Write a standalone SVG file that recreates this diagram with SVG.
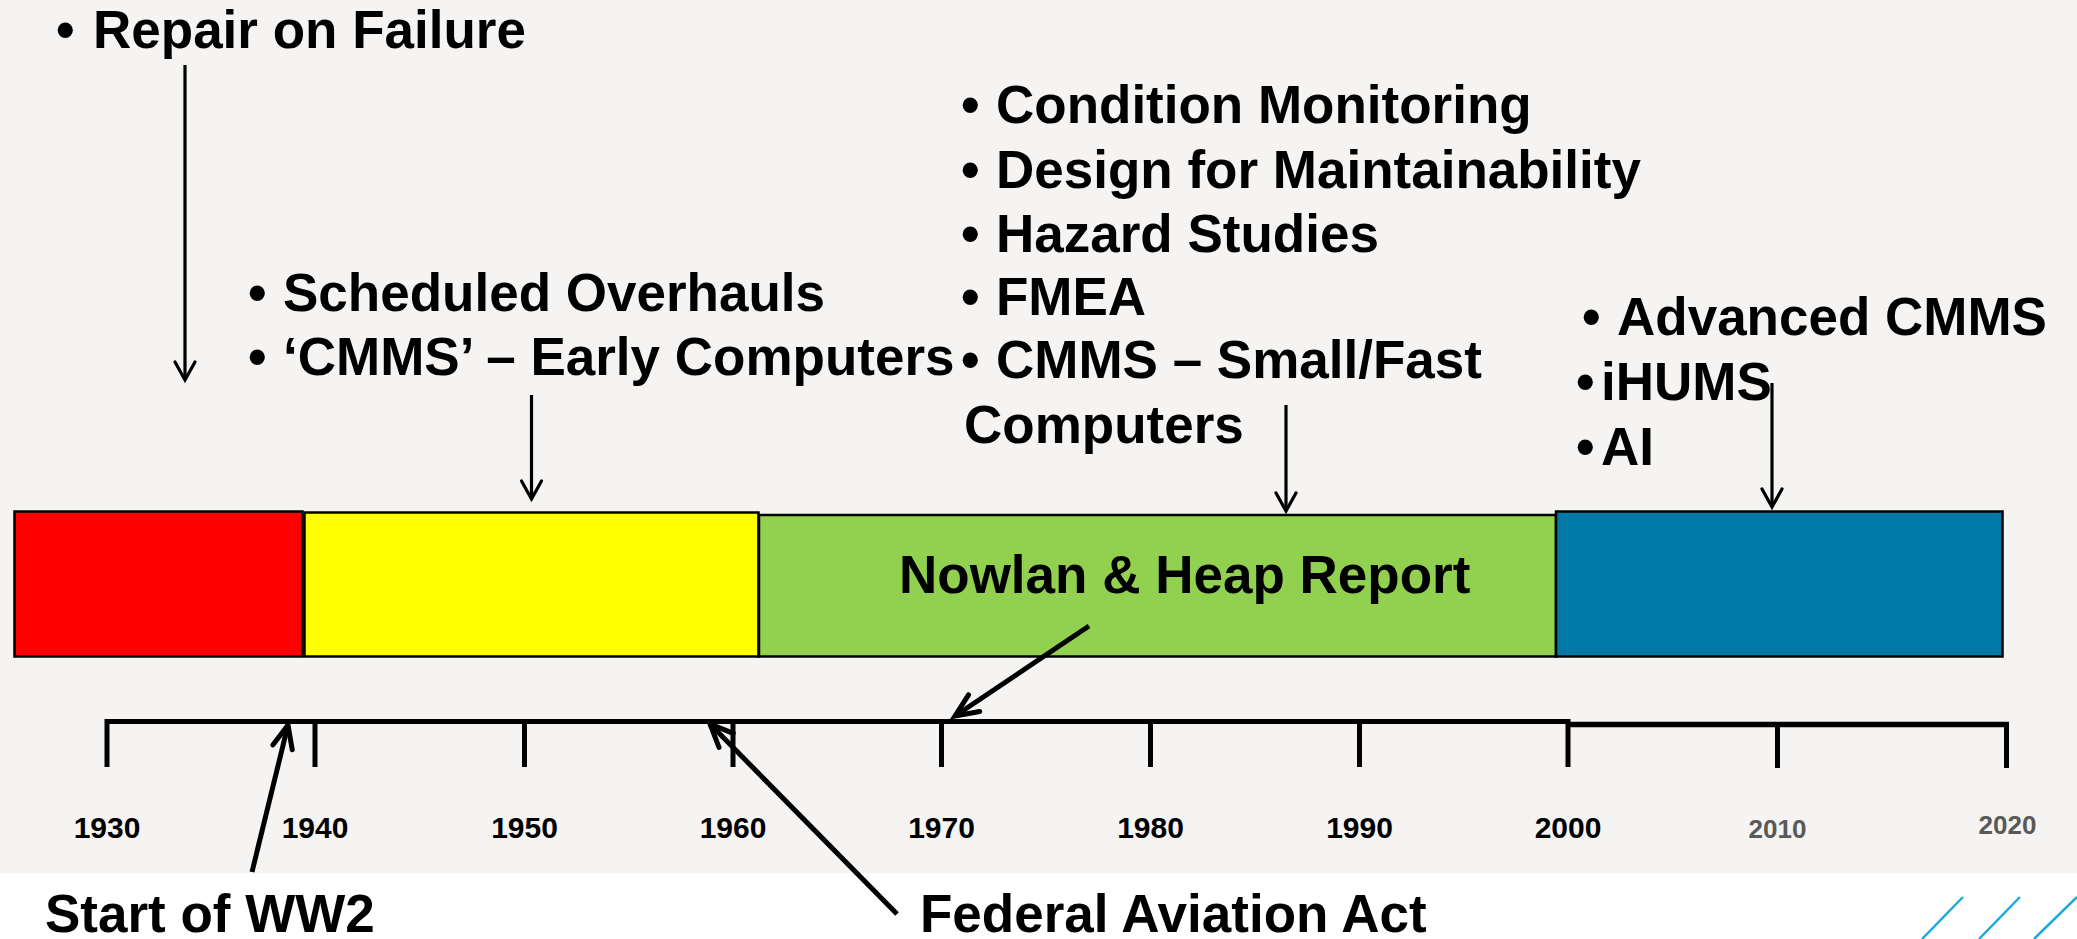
<svg xmlns="http://www.w3.org/2000/svg" width="2077" height="939" viewBox="0 0 2077 939">
  <style>
    .lbl { font-family: "Liberation Sans", Arial, sans-serif; font-weight: bold; font-size: 53px; fill: #000; }
    .yr { font-family: "Liberation Sans", Arial, sans-serif; font-weight: bold; font-size: 30px; fill: #000; text-anchor: middle; }
    .yr-late { font-family: "Liberation Sans", Arial, sans-serif; font-weight: bold; font-size: 26px; fill: #595959; text-anchor: middle; }
    .era { stroke: #000; stroke-width: 2.5; }
    .thin { stroke: #000; stroke-width: 3.2; fill: none; marker-end: url(#headThin); }
    .thick { stroke: #000; stroke-width: 5; fill: none; marker-end: url(#headThick); }
    .tick { stroke: #000; stroke-width: 5; }
    .deco { stroke: #1ea9de; stroke-width: 2.5; }
  </style>
  <defs>
    <marker id="headThin" markerUnits="userSpaceOnUse" markerWidth="26" markerHeight="28" viewBox="0 0 26 28" refX="21" refY="14" orient="auto">
      <path d="M3,4 L21,14 L3,24" fill="none" stroke="#000" stroke-width="3.2" stroke-linejoin="miter" stroke-linecap="round"/>
    </marker>
    <marker id="headThick" markerUnits="userSpaceOnUse" markerWidth="34" markerHeight="30" viewBox="0 0 34 30" refX="28" refY="15" orient="auto">
      <path d="M5,5 L28,15 L5,25" fill="none" stroke="#000" stroke-width="5" stroke-linejoin="miter" stroke-linecap="round"/>
    </marker>
  </defs>

  <!-- page background -->
  <rect x="0" y="0" width="2077" height="873" fill="#f5f4f2"/>
  <rect x="0" y="873" width="2077" height="66" fill="#ffffff"/>

  <!-- era bars -->
  <g id="era-repair">
    <rect class="era" x="14.5" y="511.5" width="288" height="145" fill="#ff0000"/>
  </g>
  <g id="era-scheduled">
    <rect class="era" x="304.5" y="512.5" width="454" height="144" fill="#ffff00"/>
  </g>
  <g id="era-condition">
    <rect class="era" x="759" y="515" width="797" height="141.5" fill="#92d050"/>
    <text class="lbl" x="899" y="593">Nowlan &amp; Heap Report</text>
  </g>
  <g id="era-advanced">
    <rect class="era" x="1556" y="511.5" width="446.5" height="145" fill="#0079a6"/>
  </g>

  <!-- text labels -->
  <g id="label-repair">
    <text class="lbl"><tspan x="56" y="48">•</tspan><tspan x="93" y="48">Repair on Failure</tspan></text>
  </g>
  <g id="label-scheduled">
    <text class="lbl"><tspan x="248" y="311">•</tspan><tspan x="283" y="311">Scheduled Overhauls</tspan></text>
    <text class="lbl"><tspan x="248" y="375">•</tspan><tspan x="283" y="375">‘CMMS’ – Early Computers</tspan></text>
  </g>
  <g id="label-condition">
    <text class="lbl"><tspan x="961" y="123">•</tspan><tspan x="996" y="123">Condition Monitoring</tspan></text>
    <text class="lbl"><tspan x="961" y="188">•</tspan><tspan x="996" y="188">Design for Maintainability</tspan></text>
    <text class="lbl"><tspan x="961" y="252">•</tspan><tspan x="996" y="252">Hazard Studies</tspan></text>
    <text class="lbl"><tspan x="961" y="315">•</tspan><tspan x="996" y="315">FMEA</tspan></text>
    <text class="lbl"><tspan x="961" y="378">•</tspan><tspan x="996" y="378">CMMS – Small/Fast</tspan></text>
    <text class="lbl" x="964" y="443">Computers</text>
  </g>
  <g id="label-advanced">
    <text class="lbl"><tspan x="1582" y="335">•</tspan><tspan x="1617" y="335">Advanced CMMS</tspan></text>
    <text class="lbl"><tspan x="1576" y="400">•</tspan><tspan x="1601" y="400">iHUMS</tspan></text>
    <text class="lbl"><tspan x="1576" y="465">•</tspan><tspan x="1601" y="465">AI</tspan></text>
  </g>
  <g id="label-ww2">
    <text class="lbl" x="45" y="932">Start of WW2</text>
  </g>
  <g id="label-faa">
    <text class="lbl" x="920" y="932">Federal Aviation Act</text>
  </g>

  <!-- time axis -->
  <g id="axis">
    <line x1="105" y1="721.5" x2="1569" y2="721.5" stroke="#000" stroke-width="5"/>
    <line x1="1566" y1="724.5" x2="2009" y2="724.5" stroke="#000" stroke-width="5.5"/>
    <line class="tick" x1="107" y1="719" x2="107" y2="767"/>
    <line class="tick" x1="315" y1="719" x2="315" y2="767"/>
    <line class="tick" x1="524.5" y1="719" x2="524.5" y2="767"/>
    <line class="tick" x1="733" y1="719" x2="733" y2="767"/>
    <line class="tick" x1="941.5" y1="719" x2="941.5" y2="767"/>
    <line class="tick" x1="1150.5" y1="719" x2="1150.5" y2="767"/>
    <line class="tick" x1="1359.5" y1="719" x2="1359.5" y2="767"/>
    <line class="tick" x1="1568" y1="719" x2="1568" y2="767"/>
    <line class="tick" x1="1777.5" y1="722" x2="1777.5" y2="768"/>
    <line class="tick" x1="2006.5" y1="722" x2="2006.5" y2="768"/>
    <text class="yr" x="107" y="838">1930</text>
    <text class="yr" x="315" y="838">1940</text>
    <text class="yr" x="524.5" y="838">1950</text>
    <text class="yr" x="733" y="838">1960</text>
    <text class="yr" x="941.5" y="838">1970</text>
    <text class="yr" x="1150.5" y="838">1980</text>
    <text class="yr" x="1359.5" y="838">1990</text>
    <text class="yr" x="1568" y="838">2000</text>
    <text class="yr-late" x="1777.5" y="838">2010</text>
    <text class="yr-late" x="2007.5" y="834">2020</text>
  </g>

  <!-- connectors -->
  <g id="connectors">
    <line class="thin" x1="185" y1="65" x2="185" y2="380"/>
    <line class="thin" x1="531.5" y1="395" x2="531.5" y2="499"/>
    <line class="thin" x1="1286" y1="405" x2="1286" y2="511"/>
    <line class="thin" x1="1772" y1="383" x2="1772" y2="507"/>
    <line class="thick" x1="1089" y1="626" x2="955" y2="716"/>
    <line class="thick" x1="252" y1="872" x2="288" y2="725"/>
    <line class="thick" x1="897" y1="914" x2="710" y2="724"/>
  </g>

  <!-- corner accent strokes -->
  <g id="accent">
    <line class="deco" x1="1922" y1="939" x2="1963" y2="897"/>
    <line class="deco" x1="1979" y1="939" x2="2020" y2="897"/>
    <line class="deco" x1="2034" y1="939" x2="2077" y2="897"/>
  </g>
</svg>
